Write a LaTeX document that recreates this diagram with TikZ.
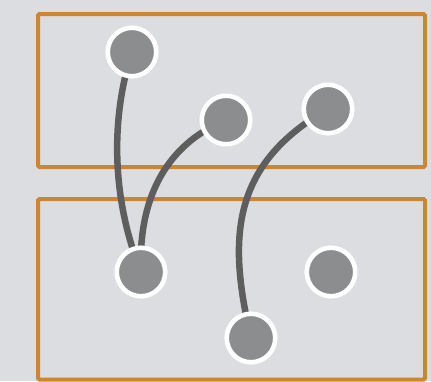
\documentclass[tikz,border=0pt]{standalone}
\usetikzlibrary{backgrounds}
\definecolor{bg}{HTML}{DCDDE0}
\definecolor{frameor}{HTML}{CC8531}
\definecolor{dotfill}{HTML}{8C8D8F}
\definecolor{edgegray}{HTML}{5E5E5E}
\tikzset{
  frame/.style={draw=frameor, line width=4pt, rounded corners=1.5pt},
  dot/.style={circle, fill=dotfill, draw=white, line width=4.6pt, minimum size=48.5pt, inner sep=0pt},
  link/.style={draw=edgegray, line width=6.5pt}
}
\begin{document}
\begin{tikzpicture}[x=1pt,y=-1pt]
\node[dot] (a) at (132,52) {};
\node[dot] (b) at (226,120) {};
\node[dot] (c) at (328,109) {};
\node[dot] (d) at (141,272) {};
\node[dot] (e) at (331,272) {};
\node[dot] (f) at (251,338) {};
\begin{scope}[on background layer]
\fill[bg] (0,0) rectangle (431,381);
\begin{scope}
\clip (0,0) rectangle (431,381);
\draw[frame] (38,14) rectangle (425,167);
\draw[frame] (38,199) rectangle (425,379.5);
\end{scope}
\draw[link] (a.center) .. controls (110,120) and (112,200) .. (d.center);
\draw[link] (b.center) .. controls (165,145) and (138,200) .. (d.center);
\draw[link] (c.center) .. controls (230,165) and (228,240) .. (f.center);
\end{scope}
\useasboundingbox (0,0) rectangle (431,381);
\end{tikzpicture}
\end{document}
